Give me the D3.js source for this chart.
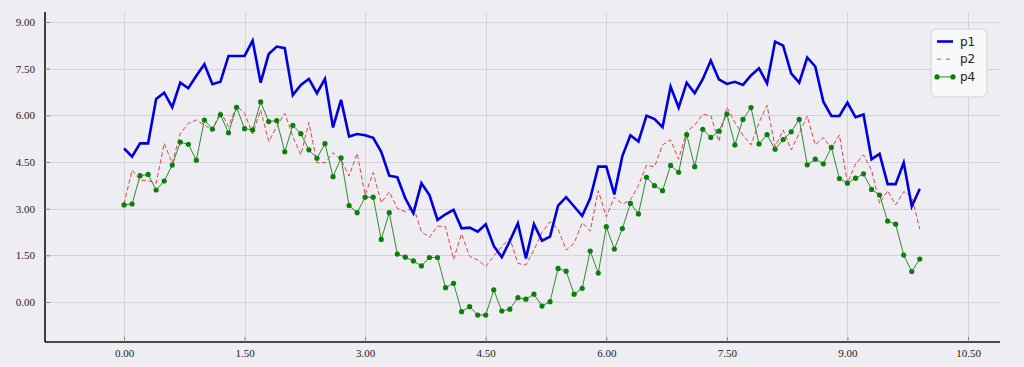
<!DOCTYPE html>
<html>
<head>
<meta charset="utf-8">
<script src="https://cdn.jsdelivr.net/npm/d3@7"></script>
<style>
  html, body { margin: 0; padding: 0; background: #eeedf2; }
  svg { display: block; }
</style>
</head>
<body>
<div id="chart"></div>
<script>
var xs = [0.0, 0.1, 0.2, 0.3, 0.4, 0.5, 0.6, 0.7, 0.8, 0.9,
  1.0, 1.1, 1.2, 1.3, 1.4, 1.5, 1.6, 1.7, 1.8, 1.9,
  2.0, 2.1, 2.2, 2.3, 2.4, 2.5, 2.6, 2.7, 2.8, 2.9,
  3.0, 3.1, 3.2, 3.3, 3.4, 3.5, 3.6, 3.7, 3.8, 3.9,
  4.0, 4.1, 4.2, 4.3, 4.4, 4.5, 4.6, 4.7, 4.8, 4.9,
  5.0, 5.1, 5.2, 5.3, 5.4, 5.5, 5.6, 5.7, 5.8, 5.9,
  6.0, 6.1, 6.2, 6.3, 6.4, 6.5, 6.6, 6.7, 6.8, 6.9,
  7.0, 7.1, 7.2, 7.3, 7.4, 7.5, 7.6, 7.7, 7.8, 7.9,
  8.0, 8.1, 8.2, 8.3, 8.4, 8.5, 8.6, 8.7, 8.8, 8.9,
  9.0, 9.1, 9.2, 9.3, 9.4, 9.5, 9.6, 9.7, 9.8, 9.9];

var p1 = [4.94, 4.67, 5.10, 5.10, 6.53, 6.73, 6.26, 7.05, 6.87, 7.27,
  7.64, 7.00, 7.08, 7.91, 7.91, 7.91, 8.40, 7.05, 7.97, 8.21,
  8.16, 6.65, 6.98, 7.17, 6.71, 7.17, 5.61, 6.50, 5.32, 5.40,
  5.36, 5.28, 4.83, 4.06, 4.01, 3.33, 2.85, 3.82, 3.44, 2.64,
  2.82, 2.96, 2.37, 2.39, 2.26, 2.50, 1.80, 1.44, 1.96, 2.53,
  1.40, 2.50, 1.97, 2.10, 3.10, 3.37, 3.07, 2.77, 3.33, 4.35,
  4.35, 3.46, 4.69, 5.36, 5.16, 5.99, 5.88, 5.62, 6.92, 6.25,
  7.05, 6.71, 7.16, 7.76, 7.16, 7.01, 7.08, 6.98, 7.28, 7.51,
  7.03, 8.37, 8.24, 7.35, 7.05, 7.86, 7.57, 6.44, 5.98, 5.98,
  6.41, 5.94, 6.03, 4.59, 4.76, 3.79, 3.79, 4.48, 3.07, 3.64];

var p2 = [3.15, 4.24, 3.92, 3.90, 3.82, 5.10, 4.46, 5.42, 5.74, 5.85,
  5.69, 5.53, 6.12, 5.64, 6.30, 6.07, 5.40, 6.17, 5.16, 5.64,
  6.07, 5.32, 4.73, 5.77, 4.48, 4.48, 4.80, 4.57, 4.05, 4.78,
  3.44, 4.16, 3.19, 3.54, 3.01, 2.90, 3.07, 2.26, 2.08, 2.44,
  2.42, 1.37, 2.19, 1.46, 1.35, 1.14, 1.48, 1.78, 2.05, 1.24,
  1.19, 1.67, 2.24, 2.58, 2.35, 1.67, 1.89, 2.55, 2.28, 3.58,
  2.74, 3.37, 3.15, 3.28, 3.74, 4.40, 4.35, 5.05, 5.21, 4.59,
  5.48, 5.69, 6.03, 5.99, 5.16, 6.26, 5.77, 5.37, 5.05, 5.77,
  6.32, 4.99, 5.53, 4.89, 5.42, 5.98, 5.05, 5.29, 4.94, 5.37,
  3.82, 4.44, 4.73, 4.24, 3.17, 3.58, 3.12, 3.55, 3.39, 2.34];

var p4 = [3.12, 3.15, 4.06, 4.10, 3.60, 3.89, 4.40, 5.14, 5.07, 4.56,
  5.85, 5.56, 6.02, 5.44, 6.26, 5.57, 5.53, 6.43, 5.80, 5.83,
  4.83, 5.68, 5.41, 4.89, 4.62, 5.09, 4.03, 4.63, 3.10, 2.87,
  3.37, 3.37, 2.01, 2.87, 1.54, 1.44, 1.32, 1.16, 1.43, 1.43,
  0.46, 0.60, -0.31, -0.15, -0.42, -0.42, 0.39, -0.29, -0.23, 0.14,
  0.09, 0.25, -0.13, 0.01, 1.08, 0.99, 0.25, 0.44, 1.64, 0.93,
  2.42, 1.70, 2.36, 3.17, 2.83, 4.01, 3.74, 3.58, 4.39, 4.17,
  5.38, 4.35, 5.55, 5.29, 5.49, 6.04, 5.05, 5.87, 6.25, 5.08,
  5.38, 4.91, 5.22, 5.47, 5.87, 4.41, 4.59, 4.44, 4.97, 3.97,
  3.82, 3.98, 4.12, 3.62, 3.44, 2.60, 2.50, 1.51, 0.98, 1.38];

var xTicks = [0, 1.5, 3, 4.5, 6, 7.5, 9, 10.5];
var yTicks = [0, 1.5, 3, 4.5, 6, 7.5, 9];
var seriesNames = ["p1", "p2", "p4"];

var width = 1024;
var height = 367;
var margin = { top: 12, right: 24, bottom: 25, left: 45 };

var bg = "#eeedf2";
var gridColor = "#d3d2d8";

var x = d3.scaleLinear()
  .domain([-0.983, 10.898])
  .range([margin.left, width - margin.right]);

var y = d3.scaleLinear()
  .domain([-1.286, 9.322])
  .range([height - margin.bottom, margin.top]);

var svg = d3.select("#chart")
  .append("svg")
  .attr("width", width)
  .attr("height", height)
  .style("background", bg);

// grid
svg.append("g")
  .selectAll("line")
  .data(yTicks)
  .join("line")
  .attr("x1", margin.left)
  .attr("x2", width - margin.right)
  .attr("y1", (d) => Math.round(y(d)) + 0.5)
  .attr("y2", (d) => Math.round(y(d)) + 0.5)
  .attr("stroke", gridColor)
  .attr("stroke-width", 1);

svg.append("g")
  .selectAll("line")
  .data(xTicks)
  .join("line")
  .attr("x1", (d) => Math.round(x(d)) + 0.5)
  .attr("x2", (d) => Math.round(x(d)) + 0.5)
  .attr("y1", margin.top)
  .attr("y2", height - margin.bottom)
  .attr("stroke", gridColor)
  .attr("stroke-width", 1);

// axes
function xAxis(g) {
  g.attr("transform", `translate(0, ${height - margin.bottom})`)
    .call(d3.axisBottom(x).tickValues(xTicks).tickFormat(d3.format(".2f")).tickSizeInner(-5).tickSizeOuter(0).tickPadding(7))
    .call((g) => g.select(".domain").attr("stroke", "#111").attr("stroke-width", 1.6).attr("d", `M${margin.left},0H${width - margin.right}`));
}

function yAxis(g) {
  g.attr("transform", `translate(${margin.left}, 0)`)
    .call(d3.axisLeft(y).tickValues(yTicks).tickFormat(d3.format(".2f")).tickSizeInner(-5).tickSizeOuter(0).tickPadding(10))
    .call((g) => g.select(".domain").attr("stroke", "#111").attr("stroke-width", 1.6).attr("d", `M0,${margin.top}V${height - margin.bottom}`));
}

svg.append("g").call(xAxis);
svg.append("g").call(yAxis);

svg.selectAll(".tick line").attr("stroke", "#888");
svg.selectAll(".tick text")
  .attr("fill", "#222")
  .style("font-family", "'Liberation Serif', serif")
  .style("font-size", "11px");

// series
var line = d3.line()
  .x((d, i) => x(xs[i]))
  .y((d) => y(d));

svg.append("path")
  .datum(p2)
  .attr("fill", "none")
  .attr("stroke", "#e0434b")
  .attr("stroke-width", 1)
  .attr("stroke-dasharray", "4.5,2.5")
  .attr("d", line);

svg.append("path")
  .datum(p4)
  .attr("fill", "none")
  .attr("stroke", "#2e8b2e")
  .attr("stroke-width", 1)
  .attr("d", line);

svg.append("g")
  .selectAll("circle")
  .data(p4)
  .join("circle")
  .attr("cx", (d, i) => x(xs[i]))
  .attr("cy", (d) => y(d))
  .attr("r", 2.6)
  .attr("fill", "#0a800a");

svg.append("path")
  .datum(p1)
  .attr("fill", "none")
  .attr("stroke", "#0000dd")
  .attr("stroke-width", 2.6)
  .attr("stroke-linejoin", "miter")
  .attr("d", line);

// legend
var legend = svg.append("g").attr("transform", "translate(931, 29)");

legend.append("rect")
  .attr("width", 56)
  .attr("height", 68)
  .attr("rx", 6)
  .attr("fill", "#f8f7fa")
  .attr("stroke", "#c9c8cc")
  .attr("stroke-width", 0.8);

var entry = legend.selectAll("g.legendEntry")
  .data(seriesNames)
  .join("g")
  .attr("class", "legendEntry")
  .attr("transform", (d, i) => `translate(0, ${12.5 + i * 17.7})`);

entry.append("line")
  .attr("x1", 6)
  .attr("x2", 22)
  .attr("stroke", (d, i) => ["#0000dd", "#e0434b", "#2e8b2e"][i])
  .attr("stroke-width", (d, i) => (i == 0 ? 2.6 : 1))
  .attr("stroke-dasharray", (d, i) => (i == 1 ? "4,5" : null));

entry.filter((d, i) => i == 2)
  .selectAll("circle")
  .data([6, 22])
  .join("circle")
  .attr("cx", (d) => d)
  .attr("r", 2.6)
  .attr("fill", "#0a800a");

entry.append("text")
  .attr("x", 29)
  .attr("dy", "0.35em")
  .attr("fill", "#222")
  .style("font-family", "'DejaVu Sans', sans-serif")
  .style("font-size", "12px")
  .text((d) => d);
</script>
</body>
</html>
